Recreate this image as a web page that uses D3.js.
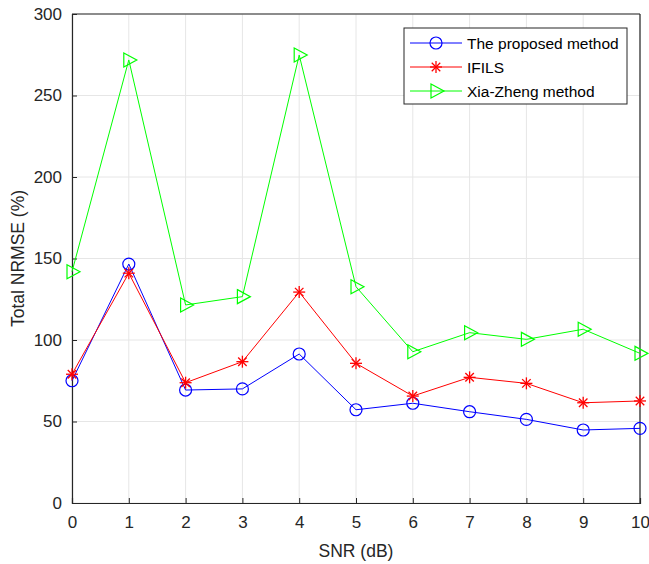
<!DOCTYPE html>
<html>
<head>
  <script src="https://d3js.org/d3.v7.min.js"></script>
  <style>
    body { margin: 0; background: #fff; font-family: Arial, "Liberation Sans", sans-serif; }
    .tick text { font-size: 17px; fill: #262626; }
    .axis-label { font-size: 17.5px; fill: #262626; text-anchor: middle; }
    .legend text { font-size: 15.5px; fill: #000; }
  </style>
</head>
<body>
  <div id="chart"></div>
  <script>
    // SNR values on the x axis
    const snr = [0, 1, 2, 3, 4, 5, 6, 7, 8, 9, 10];
    const proposed = [75, 146.6, 69.3, 70, 91.4, 57.2, 61.2, 56, 51.3, 44.8, 45.8];
    const ifils = [79, 141, 73.8, 86.7, 129.4, 85.7, 65.6, 77.1, 73.4, 61.5, 62.6];
    const xiaZheng = [141.9, 271.8, 121.5, 126.6, 274.8, 132.7, 92.8, 104.5, 100.4, 106.6, 91.8];
    const yTicks = [0, 50, 100, 150, 200, 250, 300];
    const seriesNames = ["The proposed method", "IFILS", "Xia-Zheng method"];

    const margin = { top: 14, right: 9, bottom: 61, left: 72 };
    const W = 649, H = 564;
    const width = W - margin.left - margin.right;
    const height = H - margin.top - margin.bottom;

    const svg = d3.select("#chart").append("svg")
      .attr("width", W).attr("height", H);
    const g = svg.append("g")
      .attr("transform", `translate(${margin.left},${margin.top})`);

    const x = d3.scaleLinear().domain([0, 10]).range([0, width]);
    const y = d3.scaleLinear().domain([0, 300]).range([height, 0]);

    // grid
    g.append("g").selectAll("line").data(snr).enter().append("line")
      .attr("x1", d => x(d)).attr("x2", d => x(d))
      .attr("y1", 0).attr("y2", height)
      .attr("stroke", "#e6e6e6").attr("stroke-width", 1);
    g.append("g").selectAll("line").data(yTicks).enter().append("line")
      .attr("x1", 0).attr("x2", width)
      .attr("y1", d => y(d)).attr("y2", d => y(d))
      .attr("stroke", "#e6e6e6").attr("stroke-width", 1);

    // axes (ticks inward)
    const xAxis = g.append("g").attr("transform", `translate(0,${height})`)
      .call(d3.axisBottom(x).tickValues(snr).tickSize(-5).tickPadding(13).tickFormat(d3.format("d")));
    const yAxis = g.append("g")
      .call(d3.axisLeft(y).tickValues(yTicks).tickSize(-5).tickPadding(10));
    [xAxis, yAxis].forEach(a => {
      a.select(".domain").attr("stroke", "#262626").attr("stroke-width", 1.2);
      a.selectAll(".tick line").attr("stroke", "#262626");
    });
    // top and right box lines
    g.append("line").attr("x1", 0).attr("x2", width).attr("y1", 0).attr("y2", 0)
      .attr("stroke", "#262626").attr("stroke-width", 1.2);
    g.append("line").attr("x1", width).attr("x2", width).attr("y1", 0).attr("y2", height)
      .attr("stroke", "#262626").attr("stroke-width", 1.2);

    const series = [
      { name: seriesNames[0], values: proposed, color: "#0000ff", marker: "circle" },
      { name: seriesNames[1], values: ifils, color: "#ff0000", marker: "star" },
      { name: seriesNames[2], values: xiaZheng, color: "#00ff00", marker: "triangle" }
    ];

    const line = d3.line().x((d, i) => x(snr[i])).y(d => y(d));

    function drawMarker(sel, type, color) {
      if (type === "circle") {
        sel.append("circle").attr("r", 6).attr("fill", "none")
          .attr("stroke", color).attr("stroke-width", 1.2);
      } else if (type === "star") {
        const r = 6;
        [0, 45, 90, 135].forEach(a => {
          const rad = a * Math.PI / 180;
          sel.append("line")
            .attr("x1", -r * Math.cos(rad)).attr("y1", -r * Math.sin(rad))
            .attr("x2", r * Math.cos(rad)).attr("y2", r * Math.sin(rad))
            .attr("stroke", color).attr("stroke-width", 1.3);
        });
      } else {
        sel.append("path").attr("d", "M-5,-7 L8,0 L-5,7 Z")
          .attr("fill", "none").attr("stroke", color).attr("stroke-width", 1.2);
      }
    }

    series.forEach(s => {
      g.append("path").datum(s.values)
        .attr("d", line).attr("fill", "none")
        .attr("stroke", s.color).attr("stroke-width", 1);
      g.append("g").selectAll("g").data(s.values).enter().append("g")
        .attr("transform", (d, i) => `translate(${x(snr[i])},${y(d)})`)
        .each(function () { drawMarker(d3.select(this), s.marker, s.color); });
    });

    // legend
    const legend = svg.append("g").attr("class", "legend").attr("transform", "translate(404,28)");
    legend.append("rect").attr("width", 223).attr("height", 76)
      .attr("fill", "#fff").attr("stroke", "#262626").attr("stroke-width", 1);
    series.forEach((s, i) => {
      const row = legend.append("g").attr("transform", `translate(0,${15 + i * 24})`);
      row.append("line").attr("x1", 6).attr("x2", 58).attr("y1", 0).attr("y2", 0)
        .attr("stroke", s.color).attr("stroke-width", 1);
      drawMarker(row.append("g").attr("transform", "translate(32,0)"), s.marker, s.color);
      row.append("text").attr("x", 63).attr("y", 5.5).text(s.name);
    });

    // axis labels
    svg.append("text").attr("class", "axis-label")
      .attr("x", margin.left + width / 2).attr("y", 557).text("SNR (dB)");
    svg.append("text").attr("class", "axis-label")
      .attr("transform", `translate(24,${margin.top + height / 2}) rotate(-90)`)
      .text("Total NRMSE (%)");
  </script>
</body>
</html>
